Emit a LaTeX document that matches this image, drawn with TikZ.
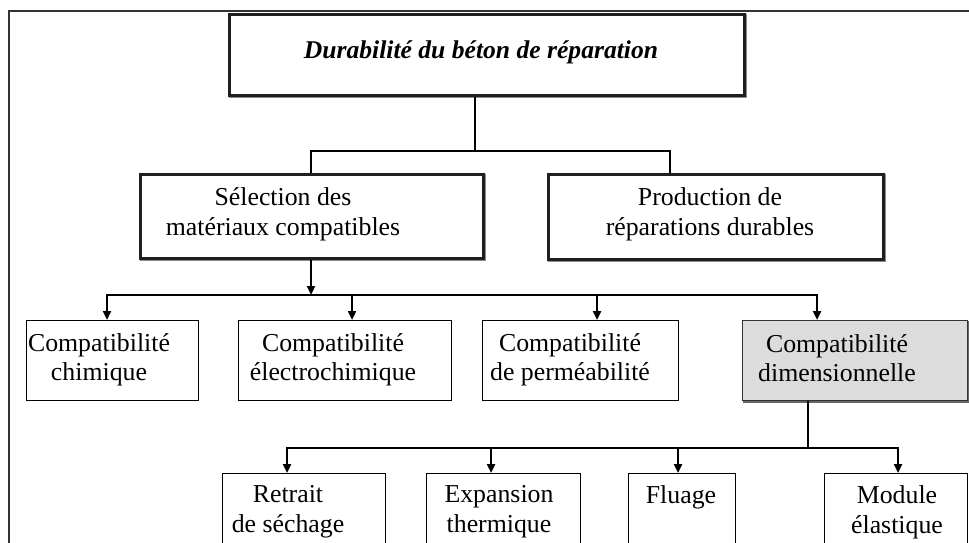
\documentclass[tikz,border=0pt]{standalone}
\usepackage{fontspec}
\setmainfont{Liberation Serif}
\usetikzlibrary{arrows.meta}
\definecolor{boxgray}{RGB}{220,220,220}
\tikzset{
  x=1pt,y=-1pt,
  conn/.style={line width=2.3pt,draw=black},
  tip/.tip={Triangle[width=8pt,length=9pt]},
  arr/.style={conn,-tip},
  heavybox/.style={draw=black!88,line width=2.6pt,fill=white,inner sep=0pt,anchor=north west,
    preaction={draw=black!45,line width=2.6pt,transform canvas={xshift=1.3pt,yshift=-1.3pt}}},
  thinbox/.style={draw=black,line width=1.2pt,fill=white,inner sep=0pt,anchor=north west},
  graybox/.style={draw=black!80,line width=1.2pt,fill=boxgray,inner sep=0pt,anchor=north west,
    preaction={draw=black!60,line width=1.2pt,transform canvas={xshift=1.3pt,yshift=-1.3pt}}},
  txt/.style={align=center,inner sep=0pt,font=\fontsize{25.8}{30}\selectfont},
  txtb/.style={align=center,inner sep=0pt,font=\fontsize{25.8}{28.5}\selectfont},
  ttl/.style={inner sep=0pt,font=\fontsize{25.6}{30}\selectfont\bfseries\itshape}
}
\begin{document}
\begin{tikzpicture}
\useasboundingbox (0,0) rectangle (969,543);
\clip (0,0) rectangle (969,543);
\fill[white] (0,0) rectangle (969,543);
% outer frame (cropped)
\draw[line width=1.3pt,black!80] (9,600) -- (9,11) -- (1000,11);

% top box
\node[heavybox,minimum width=515,minimum height=81] (T) at (228,13) {};
\node[ttl] (Tt) at (481,52.7) {Durabilité du béton de réparation};

% level 1
\node[heavybox,minimum width=343,minimum height=84] (S) at (139,173) {};
\node[txt] (St) at (283,214) {Sélection des\\matériaux compatibles};
\node[heavybox,minimum width=335,minimum height=85] (P) at (547,173) {};
\node[txt] (Pt) at (710,214) {Production de\\réparations durables};

% level 2
\node[thinbox,minimum width=172,minimum height=80] (C1) at (26,320) {};
\node[txtb] (C1t) at (99,360) {Compatibilité\\chimique};
\node[thinbox,minimum width=213,minimum height=80] (C2) at (238,320) {};
\node[txtb] (C2t) at (333,360) {Compatibilité\\électrochimique};
\node[thinbox,minimum width=196,minimum height=80] (C3) at (482,320) {};
\node[txtb] (C3t) at (570,360) {Compatibilité\\de perméabilité};
\node[graybox,minimum width=225,minimum height=80] (C4) at (742,320) {};
\node[txtb] (C4t) at (837,358) {Compatibilité\\dimensionnelle};

% level 3
\node[thinbox,minimum width=163,minimum height=110] (R1) at (222,473) {};
\node[txt] (R1t) at (288,512) {Retrait\\de séchage};
\node[thinbox,minimum width=154,minimum height=110] (R2) at (426,473) {};
\node[txt] (R2t) at (499,512) {Expansion\\thermique};
\node[thinbox,minimum width=107,minimum height=110] (R3) at (628,473) {};
\node[txt] (R3t) at (681,497) {Fluage};
\node[thinbox,minimum width=143,minimum height=110] (R4) at (824,473) {};
\node[txt] (R4t) at (897,512) {Module\\élastique};

% connectors top -> level 1
\coordinate (j0) at (475,151);
\coordinate (jS) at (311,151);
\coordinate (jP) at (670,151);
\draw[conn] (T.south -| j0) -- (j0);
\draw[conn] (S.north -| jS) -- (jS) -- (jP) -- (P.north -| jP);

% level 1 -> level 2
\coordinate (a0) at (311,295);
\coordinate (a1) at (107,295);
\coordinate (a2) at (352,295);
\coordinate (a3) at (597,295);
\coordinate (a4) at (817,295);
\draw[arr] (S.south -| a0) -- (a0);
\draw[conn,tip-tip] (C1.north -| a1) -- (a1) -- (a4) -- (C4.north -| a4);
\draw[arr] (a2) -- (C2.north -| a2);
\draw[arr] (a3) -- (C3.north -| a3);

% level 2 -> level 3
\coordinate (b0) at (808,448);
\coordinate (b1) at (287,448);
\coordinate (b2) at (491,448);
\coordinate (b3) at (678,448);
\coordinate (b4) at (898,448);
\draw[conn] (C4.south -| b0) -- (b0);
\draw[conn,tip-tip] (R1.north -| b1) -- (b1) -- (b4) -- (R4.north -| b4);
\draw[arr] (b2) -- (R2.north -| b2);
\draw[arr] (b3) -- (R3.north -| b3);
\end{tikzpicture}
\end{document}
